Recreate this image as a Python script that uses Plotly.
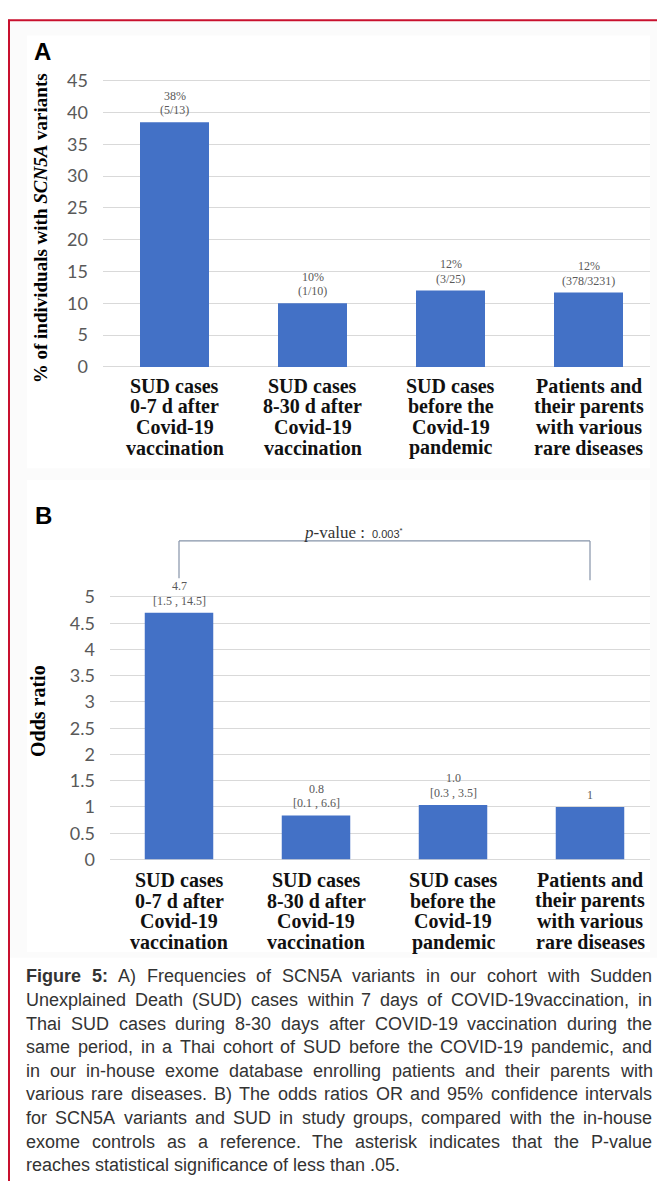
import plotly.graph_objects as go

# ---------------- data ----------------
categories = [
    "SUD cases<br>0-7 d after<br>Covid-19<br>vaccination",
    "SUD cases<br>8-30 d after<br>Covid-19<br>vaccination",
    "SUD cases<br>before the<br>Covid-19<br>pandemic",
    "Patients and<br>their parents<br>with various<br>rare diseases",
]
pct_values = [38.46, 10.0, 12.0, 11.70]
pct_labels = ["38%<br>(5/13)", "10%<br>(1/10)", "12%<br>(3/25)", "12%<br>(378/3231)"]
pct_ticks = [0, 5, 10, 15, 20, 25, 30, 35, 40, 45]

or_values = [4.7, 0.84, 1.04, 1.0]
or_labels = ["4.7<br>[1.5 , 14.5]", "0.8<br>[0.1 , 6.6]", "1.0<br>[0.3 , 3.5]", "1"]
or_ticks = [0, 0.5, 1, 1.5, 2, 2.5, 3, 3.5, 4, 4.5, 5]
or_tick_text = ["0", "0.5", "1", "1.5", "2", "2.5", "3", "3.5", "4", "4.5", "5"]

pvalue_pair = [0, 3]
pvalue_main = "<i>p</i>-value : "
pvalue_num = "0.003<sup>*</sup>"

title_a = "% of individuals with <i>SCN5A</i> variants"
title_b = "Odds ratio"

caption_lines = [
    "Figure 5: A) Frequencies of SCN5A variants in our cohort with Sudden",
    "Unexplained Death (SUD) cases within 7 days of COVID-19vaccination, in",
    "Thai SUD cases during 8-30 days after COVID-19 vaccination during the",
    "same period, in a Thai cohort of SUD before the COVID-19 pandemic, and",
    "in our in-house exome database enrolling patients and their parents with",
    "various rare diseases. B) The odds ratios OR and 95% confidence intervals",
    "for SCN5A variants and SUD in study groups, compared with the in-house",
    "exome controls as a reference. The asterisk indicates that the P-value",
    "reaches statistical significance of less than .05.",
]
caption_bold_words = 2  # "Figure 5:"

# ---------------- page geometry ----------------
W, H = 657, 1191
OFF = 0


def fx(px):
    return (px - OFF) / W


def fy(py):
    return 1 - (py - OFF) / H


BAR_COLOR = "#4371C6"
GRID = "#d9d9d9"
TICK_COL = "#595959"
SERIF = "Liberation Serif, Times New Roman, serif"
SANS = "Liberation Sans, Arial, sans-serif"
TICKFONT = dict(family="Lato, Carlito, sans-serif", size=18, color=TICK_COL)

# panel A axis geometry (page px)
A_left, A_right, A_c0, A_step = 103, 650, 174.5, 138.0
A_y0, A_y45 = 363, 72
A_ppu = (A_y0 - A_y45) / 45.0
A_top = 45.3
# panel B
B_left, B_right, B_c0, B_step = 110, 650, 179.0, 137.0
B_y0, B_y5 = 864, 597
B_ppu = (B_y0 - B_y5) / 5.0
B_top = 5.04

xs = list(range(len(categories)))

fig = go.Figure()
fig.add_trace(go.Bar(x=xs, y=pct_values, width=0.5, marker=dict(color=BAR_COLOR, line=dict(width=0)),
                     xaxis="x", yaxis="y", hoverinfo="skip"))
fig.add_trace(go.Bar(x=xs, y=or_values, width=0.5, marker=dict(color=BAR_COLOR, line=dict(width=0)),
                     xaxis="x2", yaxis="y2", hoverinfo="skip"))

fig.update_layout(
    width=W, height=H, autosize=False,
    margin=dict(l=0, r=0, t=0, b=0, pad=0),
    paper_bgcolor="white", plot_bgcolor="white",
    showlegend=False, bargap=0.5,
    xaxis=dict(domain=[fx(A_left), fx(A_right)],
               range=[(A_left - A_c0) / A_step, (A_right - A_c0) / A_step],
               showticklabels=False, showgrid=False, zeroline=False, showline=False, fixedrange=True),
    yaxis=dict(domain=[fy(A_y0), fy(A_y0 - A_top * A_ppu)], range=[0, A_top],
               tickvals=pct_ticks, showgrid=True, gridcolor=GRID, gridwidth=1,
               zeroline=True, zerolinecolor=GRID, zerolinewidth=1, showline=False,
               tickfont=TICKFONT, ticklabelstandoff=14, fixedrange=True),
    xaxis2=dict(domain=[fx(B_left), fx(B_right)],
                range=[(B_left - B_c0) / B_step, (B_right - B_c0) / B_step],
                showticklabels=False, showgrid=False, zeroline=False, showline=False,
                anchor="y2", fixedrange=True),
    yaxis2=dict(domain=[fy(B_y0), fy(B_y0 - B_top * B_ppu)], range=[0, B_top],
                tickvals=or_ticks, ticktext=or_tick_text, showgrid=True, gridcolor=GRID, gridwidth=1,
                zeroline=True, zerolinecolor=GRID, zerolinewidth=1, showline=False,
                tickfont=TICKFONT, ticklabelstandoff=14, anchor="x2", fixedrange=True),
)

ann = []
shapes = []

# very faint page backdrop behind the two white chart panels
shapes.append(dict(type="rect", xref="paper", yref="paper", layer="below",
                   x0=fx(10), x1=1, y0=fy(964), y1=fy(12),
                   fillcolor="#fbfbfb", line=dict(width=0)))
for top, bottom in ((26, 466), (478, 958)):
    shapes.append(dict(type="rect", xref="paper", yref="paper", layer="below",
                       x0=fx(27), x1=fx(650), y0=fy(bottom), y1=fy(top),
                       fillcolor="white", line=dict(width=0)))

# red frame (top and left)
shapes.append(dict(type="line", xref="paper", yref="paper", x0=fx(8), x1=1, y0=fy(10.5), y1=fy(10.5),
                   line=dict(color="#c8102e", width=2)))
shapes.append(dict(type="line", xref="paper", yref="paper", x0=fx(9), x1=fx(9), y0=fy(10), y1=0,
                   line=dict(color="#c8102e", width=2)))

# panel letters
ann.append(dict(text="<b>A</b>", xref="paper", yref="paper", x=fx(42), y=fy(42), showarrow=False,
                xanchor="center", yanchor="middle", font=dict(family=SANS, size=24, color="black")))
ann.append(dict(text="<b>B</b>", xref="paper", yref="paper", x=fx(43), y=fy(514), showarrow=False,
                xanchor="center", yanchor="middle", font=dict(family=SANS, size=24, color="black")))

# y titles
ann.append(dict(text="<b>" + title_a + "</b>", xref="paper", yref="paper", x=fx(40), y=fy(222),
                textangle=-90, showarrow=False, xanchor="center", yanchor="middle",
                font=dict(family=SERIF, size=19, color="black")))
ann.append(dict(text="<b>" + title_b + "</b>", xref="paper", yref="paper", x=fx(38), y=fy(713),
                textangle=-90, showarrow=False, xanchor="center", yanchor="middle",
                font=dict(family=SERIF, size=20, color="black")))

# category labels (one annotation per line)
LINE_GAP = 21
for xr, first_line in (("x", 382), ("x2", 885)):
    for i, cat in enumerate(categories):
        for k, line in enumerate(cat.split("<br>")):
            ann.append(dict(text="<b>" + line + "</b>", xref=xr, yref="paper", x=xs[i],
                            y=fy(first_line + k * LINE_GAP), showarrow=False,
                            xanchor="center", yanchor="middle", borderpad=0,
                            font=dict(family=SERIF, size=20, color="#111111")))

# bar value labels
for xr, yr, vals, labels in (("x", "y", pct_values, pct_labels), ("x2", "y2", or_values, or_labels)):
    for i, (v, lab) in enumerate(zip(vals, labels)):
        lines = lab.split("<br>")
        n = len(lines)
        for k, line in enumerate(lines):
            ann.append(dict(text=line, xref=xr, yref=yr, x=xs[i], y=v, yshift=12 + 14.5 * (n - 1 - k),
                            showarrow=False, xanchor="center", yanchor="middle", borderpad=0,
                            font=dict(family=SERIF, size=12, color=TICK_COL)))

# p-value bracket
BR_COL = "#8593a8"
shapes.append(dict(type="line", xref="x2", yref="paper", x0=pvalue_pair[0], x1=pvalue_pair[1],
                   y0=fy(540), y1=fy(540), line=dict(color=BR_COL, width=1.2)))
shapes.append(dict(type="line", xref="x2", yref="paper", x0=pvalue_pair[0], x1=pvalue_pair[0],
                   y0=fy(540), y1=fy(578), line=dict(color=BR_COL, width=1.2)))
shapes.append(dict(type="line", xref="x2", yref="paper", x0=pvalue_pair[1], x1=pvalue_pair[1],
                   y0=fy(540), y1=fy(580), line=dict(color=BR_COL, width=1.2)))
ann.append(dict(text=pvalue_main, xref="paper", yref="paper", x=fx(370), y=fy(531), showarrow=False,
                xanchor="right", yanchor="middle", borderpad=0,
                font=dict(family=SERIF, size=17, color="#333333")))
ann.append(dict(text=pvalue_num, xref="paper", yref="paper", x=fx(371), y=fy(532), showarrow=False,
                xanchor="left", yanchor="middle", borderpad=0,
                font=dict(family=SANS, size=11, color="#333333")))

# caption, justified word by word using Arial metrics
AR = {' ': 278, '(': 333, ')': 333, ',': 278, '.': 278, '-': 333, '%': 889, ':': 278, '/': 278, '*': 389}
for c in "0123456789":
    AR[c] = 556
AR.update(dict(a=556, b=556, c=500, d=556, e=556, f=278, g=556, h=556, i=222, j=222, k=500, l=222,
               m=833, n=556, o=556, p=556, q=556, r=333, s=500, t=278, u=556, v=500, w=722, x=500,
               y=500, z=500))
AR.update(dict(A=667, B=667, C=722, D=722, E=667, F=611, G=778, H=722, I=278, J=500, K=667, L=556,
               M=833, N=722, O=778, P=667, Q=778, R=722, S=667, T=611, U=722, V=667, W=944, X=667,
               Y=667, Z=611))
ARB = dict(AR)
ARB.update({'F': 611, 'i': 278, 'g': 611, 'u': 611, 'r': 389, 'e': 556, ':': 333})

CAP_SIZE = 18
CAP_L, CAP_R = 25, 651
CAP_Y0, CAP_DY = 983, 24


def wwidth(word, bold):
    tab = ARB if bold else AR
    return sum(tab.get(ch, 556) for ch in word) * CAP_SIZE / 1000.0


for li, line in enumerate(caption_lines):
    words = line.split(" ")
    bolds = [(li == 0 and wi < caption_bold_words) for wi in range(len(words))]
    widths = [wwidth(w, b) for w, b in zip(words, bolds)]
    if li < len(caption_lines) - 1 and len(words) > 1:
        gap = (CAP_R - CAP_L - sum(widths)) / (len(words) - 1)
    else:
        gap = AR[' '] * CAP_SIZE / 1000.0
    xcur = CAP_L
    for w, b, wd in zip(words, bolds, widths):
        ann.append(dict(text=("<b>" + w + "</b>") if b else w, xref="paper", yref="paper",
                        x=fx(xcur), y=fy(CAP_Y0 + li * CAP_DY), showarrow=False,
                        xanchor="left", yanchor="middle", borderpad=0,
                        font=dict(family=SANS, size=CAP_SIZE, color="#333333")))
        xcur += wd + gap

fig.update_layout(annotations=ann, shapes=shapes)
fig.write_html(
    "out.html",
    config={"displayModeBar": False, "staticPlot": True},
    post_script="document.body.style.margin='0';"
                "document.documentElement.style.overflow='hidden';"
                "document.body.style.overflow='hidden';",
)
